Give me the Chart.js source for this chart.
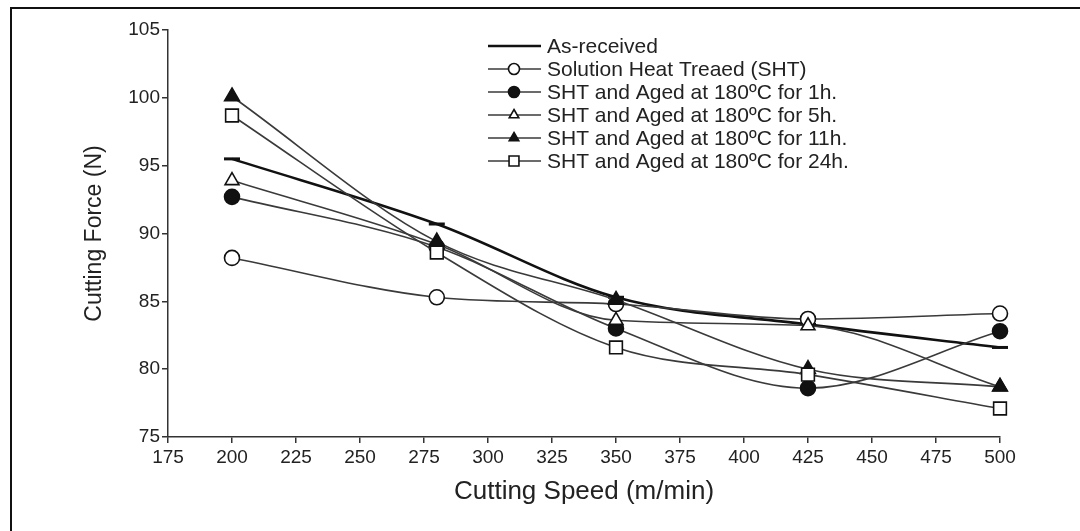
<!DOCTYPE html>
<html>
<head>
<meta charset="utf-8">
<script src="https://cdn.jsdelivr.net/npm/chart.js@4/dist/chart.umd.min.js"></script>
<style>
  html, body { margin: 0; padding: 0; background: #fff; }
  #wrap { position: relative; width: 1080px; height: 531px; overflow: hidden; }
  #frame { position: absolute; left: 10px; top: 7px; width: 1100px; height: 600px; border-left: 2px solid #111; border-top: 2px solid #111; }
  canvas { position: absolute; left: 0; top: 0; }
</style>
</head>
<body>
<div id="wrap">
  <div id="frame"></div>
  <canvas id="chart" width="1080" height="531"></canvas>
</div>
<script>
// ─── DATA ─────────────────────────────────────────────────────────────────────
const speeds = [200, 280, 350, 425, 500];
const asReceived = [95.5, 90.7, 85.3, 83.3, 81.6];
const sht = [88.2, 85.3, 84.8, 83.7, 84.1];
const aged1h = [92.7, 89.0, 83.0, 78.6, 82.8];
const aged5h = [93.9, 89.2, 83.6, 83.2, 78.7];
const aged11h = [100.1, 89.4, 85.1, 80.0, 78.7];
const aged24h = [98.7, 88.6, 81.6, 79.6, 77.1];

const seriesLabels = [
    'As-received',
    'Solution Heat Treaed (SHT)',
    'SHT and Aged at 180ºC for 1h.',
    'SHT and Aged at 180ºC for 5h.',
    'SHT and Aged at 180ºC for 11h.',
    'SHT and Aged at 180ºC for 24h.'
];
const xTicks = [175, 200, 225, 250, 275, 300, 325, 350, 375, 400, 425, 450, 475, 500];
const yTicks = [75, 80, 85, 90, 95, 100, 105];

const INK = '#222';
const LINE = '#3a3a3a';
const FONT = '"Liberation Sans", Arial, sans-serif';

function pts(vals) { return speeds.map((x, i) => ({ x, y: vals[i] })); }

// estilo por serie: [pointStyle, relleno, radio]
const styles = [
    ['line', true, 8],
    ['circle', false, 7.5],
    ['circle', true, 7.5],
    ['triangle', false, 8],
    ['triangle', true, 8.5],
    ['rect', false, 9]
];
const allValues = [asReceived, sht, aged1h, aged5h, aged11h, aged24h];

const datasets = allValues.map((vals, i) => {
    const [ps, filled, r] = styles[i];
    return {
        label: seriesLabels[i],
        data: pts(vals),
        order: allValues.length - 1 - i, // las últimas series quedan arriba
        borderColor: i === 0 ? '#111' : LINE,
        borderWidth: i === 0 ? 2.6 : 1.6,
        pointStyle: ps,
        pointRadius: r,
        pointBorderWidth: i === 0 ? 3 : 1.6,
        pointBorderColor: '#111',
        pointBackgroundColor: filled ? '#111' : '#fff',
        cubicInterpolationMode: 'monotone',
        clip: false,
        fill: false
    };
});

// ─── LEYENDA (plugin canvas) ──────────────────────────────────────────────────
const legendPlugin = {
    id: 'figLegend',
    afterDraw(chart) {
        const ctx = chart.ctx;
        ctx.save();
        ctx.font = '21px ' + FONT;
        ctx.textBaseline = 'middle';
        datasets.forEach((ds, i) => {
            const y = 46 + i * 23;
            ctx.strokeStyle = i === 0 ? '#111' : LINE;
            ctx.lineWidth = i === 0 ? 2.6 : 1.6;
            ctx.beginPath();
            ctx.moveTo(488, y);
            ctx.lineTo(541, y);
            ctx.stroke();
            if (i > 0) {
                ctx.fillStyle = ds.pointBackgroundColor;
                ctx.strokeStyle = '#111';
                ctx.lineWidth = 1.6;
                Chart.helpers.drawPoint(ctx, {
                    pointStyle: ds.pointStyle,
                    rotation: 0,
                    radius: ds.pointStyle === 'rect' ? 7 : 5.5,
                    borderWidth: 1.6
                }, 514, y);
            }
            ctx.fillStyle = INK;
            ctx.fillText(ds.label, 547, y + 1);
        });
        ctx.restore();
    }
};

// ─── GRÁFICO ──────────────────────────────────────────────────────────────────
new Chart(document.getElementById('chart'), {
    type: 'line',
    data: { datasets },
    plugins: [legendPlugin],
    options: {
        responsive: false,
        animation: false,
        layout: { padding: { left: 0, right: 80, top: 30, bottom: 0 } },
        plugins: { legend: { display: false }, tooltip: { enabled: false } },
        scales: {
            x: {
                type: 'linear',
                min: 175,
                max: 500,
                afterBuildTicks: s => { s.ticks = xTicks.map(v => ({ value: v })); },
                afterFit: s => { s.height = 94; },
                border: { color: '#333', width: 1.5 },
                grid: { drawOnChartArea: false, drawTicks: true, tickLength: 6, color: '#333', lineWidth: 1.5 },
                ticks: { color: INK, font: { family: FONT, size: 19 }, padding: 3, maxRotation: 0 },
                title: { display: true, text: 'Cutting Speed (m/min)', color: INK, font: { family: FONT, size: 26 }, padding: { top: 0, bottom: 24 } }
            },
            y: {
                type: 'linear',
                min: 75,
                max: 105,
                afterBuildTicks: s => { s.ticks = yTicks.map(v => ({ value: v })); },
                afterFit: s => { s.width = 168; },
                border: { color: '#333', width: 1.5 },
                grid: { drawOnChartArea: false, drawTicks: true, tickLength: 6, color: '#333', lineWidth: 1.5 },
                ticks: { color: INK, font: { family: FONT, size: 19 }, padding: 2 },
                title: { display: true, text: 'Cutting Force (N)', color: INK, font: { family: FONT, size: 23 }, padding: { top: 81, bottom: 0 } }
            }
        }
    }
});
</script>
</body>
</html>
